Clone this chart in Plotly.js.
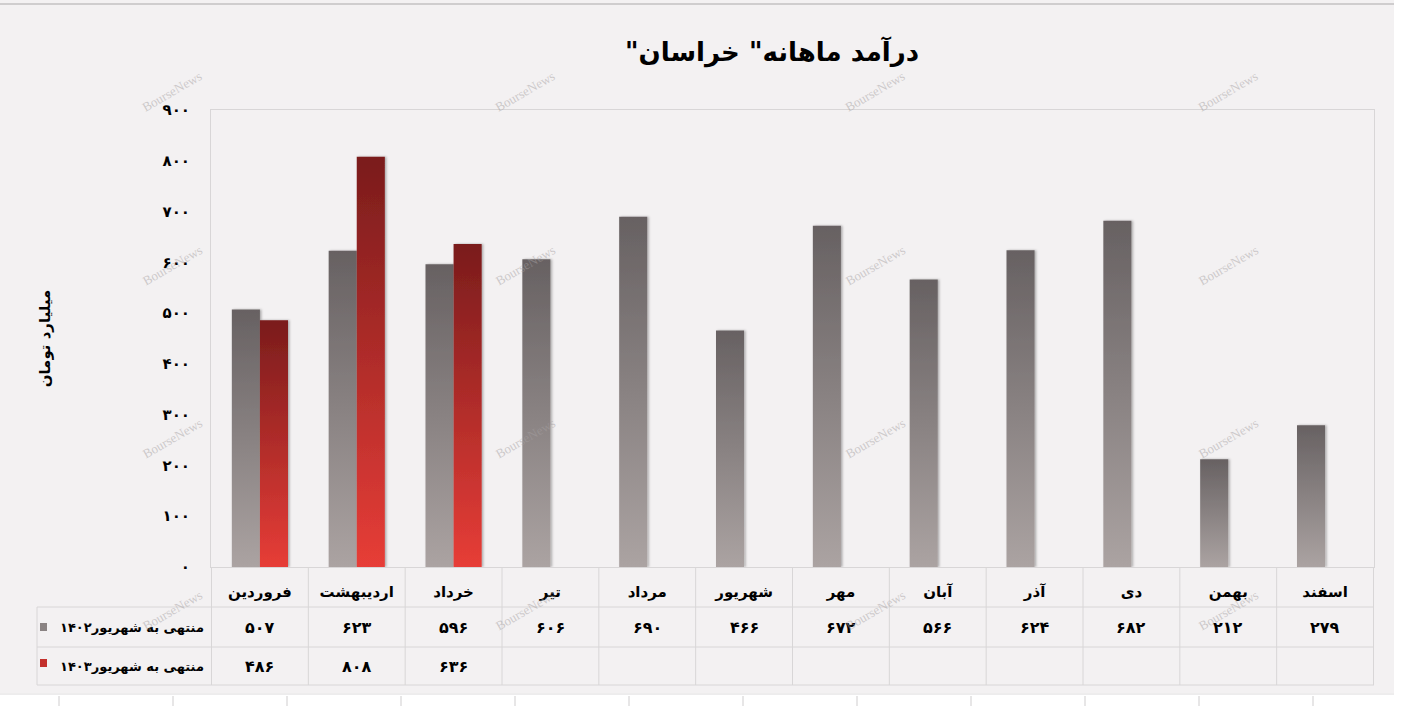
<!DOCTYPE html>
<html>
<head>
<meta charset="utf-8">
<script src="https://cdn.plot.ly/plotly-3.0.1.min.js"></script>
<style>
html,body{margin:0;padding:0;background:#f3f1f2;}
#chart{width:1404px;height:706px;}
</style>
</head>
<body>
<div id="chart"></div>
<script>
// ---- data ----
const categories = ['فروردین','اردیبهشت','خرداد','تیر','مرداد','شهریور','مهر','آبان','آذر','دی','بهمن','اسفند'];
const series1402 = [507, 623, 596, 606, 690, 466, 672, 566, 624, 682, 212, 279];
const series1403 = [486, 808, 636, null, null, null, null, null, null, null, null, null];
const seriesNames = ['منتهی به شهریور۱۴۰۲', 'منتهی به شهریور۱۴۰۳'];
const yTickVals = [0, 100, 200, 300, 400, 500, 600, 700, 800, 900];
const yTickText = ['۰', '۱۰۰', '۲۰۰', '۳۰۰', '۴۰۰', '۵۰۰', '۶۰۰', '۷۰۰', '۸۰۰', '۹۰۰'];
const titleText = 'درآمد ماهانه" خراسان"';
const yTitleText = 'میلیارد تومان';
const watermark = 'BourseNews';

// ---- helpers ----
const FONT = '"DejaVu Sans", "Noto Sans", sans-serif';
const L = 211, R = 1374, T = 110, B = 567;
const px = x => (x - L) / (R - L);
const py = y => (B - y) / (B - T);
const toFa = n => String(n).replace(/[0-9]/g, d => '۰۱۲۳۴۵۶۷۸۹'[d]);
const RLM = '\u200F';

const grid = '#d8d6d7';

const traces = [
  {type:'bar', name: seriesNames[0], x: categories, y: series1402,
   marker:{color:'#8a8383', line:{width:0}}, hoverinfo:'x+y'},
  {type:'bar', name: seriesNames[1], x: categories, y: series1403,
   marker:{color:'#b52a27', line:{width:0}}, hoverinfo:'x+y'}
];

const shapes = [];
const annotations = [];

// table lines
const tableBottom = 685;
for (let i = 0; i <= categories.length; i++) {
  shapes.push({type:'line', xref:'x', yref:'paper', x0:i-0.5, x1:i-0.5, y0:py(567), y1:py(tableBottom), line:{color:grid, width:1}});
}
[607, 647, tableBottom].forEach(yy => {
  shapes.push({type:'line', xref:'paper', yref:'paper', x0:px(37), x1:px(R), y0:py(yy), y1:py(yy), line:{color:grid, width:1}});
});
shapes.push({type:'line', xref:'paper', yref:'paper', x0:px(37), x1:px(37), y0:py(607), y1:py(tableBottom), line:{color:grid, width:1}});

// legend squares in table
shapes.push({type:'rect', xref:'paper', yref:'paper', x0:px(40), x1:px(47), y0:py(623), y1:py(631), line:{width:0}, fillcolor:'#8a8383'});
shapes.push({type:'rect', xref:'paper', yref:'paper', x0:px(40), x1:px(47), y0:py(659), y1:py(667), line:{width:0}, fillcolor:'#c3302c'});

// outer decoration
shapes.push({type:'line', xref:'paper', yref:'paper', x0:px(0), x1:px(1394), y0:py(4), y1:py(4), line:{color:'#cfcdce', width:2}});
shapes.push({type:'rect', xref:'paper', yref:'paper', x0:px(1394), x1:px(1404), y0:py(0), y1:py(706), line:{width:0}, fillcolor:'#ffffff'});
shapes.push({type:'rect', xref:'paper', yref:'paper', x0:px(0), x1:px(1404), y0:py(693), y1:py(706), line:{width:0}, fillcolor:'#ffffff'});
shapes.push({type:'line', xref:'paper', yref:'paper', x0:px(0), x1:px(1394), y0:py(694), y1:py(694), line:{color:'#dcdadb', width:1}});
for (let k = 0; k < 12; k++) {
  const xx = 59 + k * 114;
  shapes.push({type:'line', xref:'paper', yref:'paper', x0:px(xx), x1:px(xx), y0:py(696), y1:py(706), line:{color:'#cfcdce', width:1}});
}

// row labels
const rowY = [627, 666];
seriesNames.forEach((nm, r) => {
  annotations.push({xref:'paper', yref:'paper', x:px(206), y:py(rowY[r]), xanchor:'right', yanchor:'middle',
    text: RLM + nm + RLM, showarrow:false, font:{family:FONT, size:13, color:'#000', weight:'bold'}});
});
// table values
[series1402, series1403].forEach((s, r) => {
  s.forEach((v, i) => {
    if (v === null || v === undefined) return;
    annotations.push({xref:'x', yref:'paper', x:categories[i], y:py(rowY[r]), xanchor:'center', yanchor:'middle',
      text: toFa(v), showarrow:false, font:{family:FONT, size:16, color:'#000', weight:'bold'}});
  });
});

// watermarks
const wmX = [172, 525, 875, 1228];
const wmY = [92, 265, 438, 610];
wmY.forEach(yy => wmX.forEach(xx => {
  annotations.push({xref:'paper', yref:'paper', x:px(xx), y:py(yy), xanchor:'center', yanchor:'middle',
    text:watermark, showarrow:false, textangle:-30,
    font:{family:'"Liberation Serif", serif', size:13, color:'rgba(165,160,161,0.5)'}});
}));

const layout = {
  width:1404, height:706,
  paper_bgcolor:'#f3f1f2', plot_bgcolor:'#f3f1f2',
  margin:{l:L, r:1404-R, t:T, b:706-B, pad:0},
  showlegend:false,
  barmode:'group', bargap:0.42, bargroupgap:0,
  title:{text: RLM + titleText + RLM, x:772/1404, xref:'container', xanchor:'center', y:1-52/706, yanchor:'middle',
    font:{family:FONT, size:26, color:'#000', weight:'bold'}},
  xaxis:{type:'category', showgrid:false, showline:true, linecolor:grid, linewidth:1, mirror:true,
    ticks:'', ticklabelstandoff:11, zeroline:false,
    tickfont:{family:FONT, size:15, color:'#000', weight:'bold'}},
  yaxis:{range:[0,900], tickvals:yTickVals, ticktext:yTickText, showgrid:false, zeroline:false,
    showline:true, linecolor:grid, linewidth:1, mirror:true, ticks:'', ticklabelstandoff:17,
    tickfont:{family:FONT, size:15, color:'#000', weight:'bold'},
    title:{text: RLM + yTitleText + RLM, standoff:108, font:{family:FONT, size:15, color:'#000', weight:'bold'}}},
  shapes, annotations
};

Plotly.newPlot('chart', traces, layout, {displayModeBar:false, staticPlot:true}).then(gd => {
  const svg = gd.querySelector('svg.main-svg');
  const NS = 'http://www.w3.org/2000/svg';
  let defs = svg.querySelector('defs');
  if (!defs) { defs = document.createElementNS(NS, 'defs'); svg.insertBefore(defs, svg.firstChild); }
  const mkGrad = (id, top, bottom) => {
    const g = document.createElementNS(NS, 'linearGradient');
    g.setAttribute('id', id); g.setAttribute('x1','0'); g.setAttribute('y1','0'); g.setAttribute('x2','0'); g.setAttribute('y2','1');
    [[0, top], [1, bottom]].forEach(([o, c]) => {
      const s = document.createElementNS(NS, 'stop'); s.setAttribute('offset', o); s.setAttribute('stop-color', c); g.appendChild(s);
    });
    defs.appendChild(g);
  };
  mkGrad('gGray', '#676162', '#aba3a2');
  mkGrad('gRed', '#7a1c1c', '#e73d37');
  const f = document.createElementNS(NS, 'filter');
  f.setAttribute('id', 'barShadow'); f.setAttribute('x','-30%'); f.setAttribute('y','-10%'); f.setAttribute('width','160%'); f.setAttribute('height','120%');
  const ds = document.createElementNS(NS, 'feDropShadow');
  ds.setAttribute('dx','1.5'); ds.setAttribute('dy','0'); ds.setAttribute('stdDeviation','1.2'); ds.setAttribute('flood-color','#000'); ds.setAttribute('flood-opacity','0.3');
  f.appendChild(ds); defs.appendChild(f);
  const traceGroups = gd.querySelectorAll('.barlayer .trace');
  traceGroups.forEach((tg, i) => {
    tg.querySelectorAll('path').forEach(p => {
      p.style.fill = i === 0 ? 'url(#gGray)' : 'url(#gRed)';
      p.style.fillOpacity = 1;
      p.setAttribute('filter', 'url(#barShadow)');
    });
  });
});
</script>
</body>
</html>
